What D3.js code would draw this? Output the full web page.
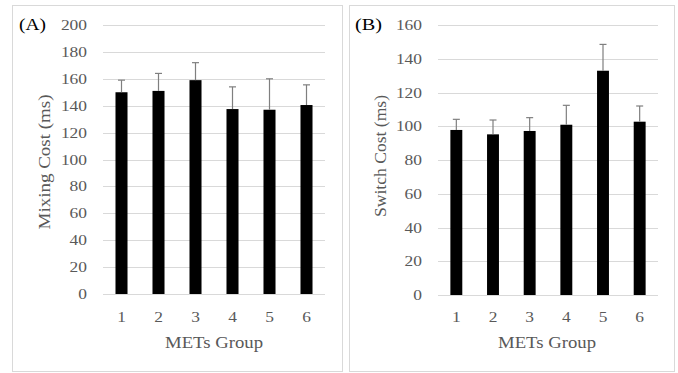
<!DOCTYPE html>
<html>
<head>
<meta charset="utf-8">
<script src="https://cdn.jsdelivr.net/npm/d3@7"></script>
<style>
  html, body { margin: 0; padding: 0; background: #fff; }
  svg { display: block; }
</style>
</head>
<body>
<svg id="chart" width="678" height="373" font-family="'Liberation Serif', 'Times New Roman', 'DejaVu Serif', serif"></svg>
<script>
// MET groups on the x axis
const groups = ["1", "2", "3", "4", "5", "6"];

// Panel A: mixing cost (ms), mean and error (upper bar length)
const mixingCost = [150, 151, 159, 137.5, 137, 140.5];
const mixingErr  = [9, 13, 13, 16.5, 23, 15];
const mixingTicks = [0, 20, 40, 60, 80, 100, 120, 140, 160, 180, 200];

// Panel B: switch cost (ms), mean and error
const switchCost = [97.8, 95.2, 97.2, 100.9, 132.9, 102.7];
const switchErr  = [6.3, 8.5, 7.9, 11.5, 15.6, 9.3];
const switchTicks = [0, 20, 40, 60, 80, 100, 120, 140, 160];

const svg = d3.select("#chart");

const panels = [
  {
    tag: "(A)", yTitle: "Mixing Cost (ms)", values: mixingCost, errs: mixingErr,
    ticks: mixingTicks, yMax: 200,
    box: [12.5, 5.5, 330, 366],
    plot: { x0: 103, x1: 325, y0: 294, y1: 25 },
    tagX: 19, tickRight: 87, yTitleX: 50, yTitleY: 162, yTitleLen: 135, xTitleX: 214
  },
  {
    tag: "(B)", yTitle: "Switch Cost (ms)", values: switchCost, errs: switchErr,
    ticks: switchTicks, yMax: 160,
    box: [349.5, 5.5, 325, 366],
    plot: { x0: 438, x1: 658, y0: 295, y1: 25 },
    tagX: 355, tickRight: 422, yTitleX: 386, yTitleY: 156, yTitleLen: 122, xTitleX: 547
  }
];

// stretch a text element horizontally by a factor
function widen(sel, factor) {
  sel.each(function () {
    const w = this.getComputedTextLength();
    d3.select(this).attr("textLength", w * factor).attr("lengthAdjust", "spacingAndGlyphs");
  });
}

panels.forEach(p => {
  const g = svg.append("g");

  // panel frame
  g.append("rect")
    .attr("x", p.box[0]).attr("y", p.box[1])
    .attr("width", p.box[2]).attr("height", p.box[3])
    .attr("fill", "#fff").attr("stroke", "#d9d9d9").attr("stroke-width", 1);

  const x = d3.scaleBand().domain(groups)
    .range([p.plot.x0, p.plot.x1])
    .paddingInner(0.675).paddingOuter(0.3375);
  const y = d3.scaleLinear().domain([0, p.yMax]).range([p.plot.y0, p.plot.y1]);

  // gridlines
  g.append("g").selectAll("line").data(p.ticks).join("line")
    .attr("x1", p.plot.x0).attr("x2", p.plot.x1)
    .attr("y1", d => Math.round(y(d)) + 0.5).attr("y2", d => Math.round(y(d)) + 0.5)
    .attr("stroke", "#d9d9d9").attr("stroke-width", 1);

  // y tick labels
  const yLab = g.append("g").selectAll("text").data(p.ticks).join("text")
    .attr("x", p.tickRight).attr("y", d => y(d) + 5)
    .attr("text-anchor", "end")
    .attr("font-size", 14.5).attr("fill", "#595959")
    .text(d => d);
  widen(yLab, 1.2);

  // bars
  g.append("g").selectAll("rect").data(groups).join("rect")
    .attr("x", d => x(d)).attr("width", x.bandwidth())
    .attr("y", (d, i) => y(p.values[i]))
    .attr("height", (d, i) => y(0) - y(p.values[i]))
    .attr("fill", "#000");

  // error bars (upper)
  const eb = g.append("g").selectAll("g").data(groups).join("g");
  eb.append("line")
    .attr("x1", d => x(d) + x.bandwidth() / 2).attr("x2", d => x(d) + x.bandwidth() / 2)
    .attr("y1", (d, i) => y(p.values[i]))
    .attr("y2", (d, i) => y(p.values[i] + p.errs[i]))
    .attr("stroke", "#7f7f7f").attr("stroke-width", 1.2);
  eb.append("line")
    .attr("x1", d => x(d) + x.bandwidth() / 2 - 3.5).attr("x2", d => x(d) + x.bandwidth() / 2 + 3.5)
    .attr("y1", (d, i) => y(p.values[i] + p.errs[i]))
    .attr("y2", (d, i) => y(p.values[i] + p.errs[i]))
    .attr("stroke", "#7f7f7f").attr("stroke-width", 1.2);

  // x tick labels
  const xLab = g.append("g").selectAll("text").data(groups).join("text")
    .attr("x", d => x(d) + x.bandwidth() / 2).attr("y", 322)
    .attr("text-anchor", "middle")
    .attr("font-size", 14.5).attr("fill", "#595959")
    .text(d => d);
  widen(xLab, 1.2);

  // axis titles
  g.append("text")
    .attr("x", p.xTitleX).attr("y", 347.5)
    .attr("text-anchor", "middle")
    .attr("font-size", 17).attr("fill", "#595959")
    .attr("textLength", 98).attr("lengthAdjust", "spacingAndGlyphs")
    .text("METs Group");

  g.append("text")
    .attr("transform", `translate(${p.yTitleX},${p.yTitleY}) rotate(-90)`)
    .attr("text-anchor", "middle")
    .attr("font-size", 16.5).attr("fill", "#595959")
    .attr("textLength", p.yTitleLen).attr("lengthAdjust", "spacingAndGlyphs")
    .text(p.yTitle);

  // panel tag
  g.append("text")
    .attr("x", p.tagX).attr("y", 30)
    .attr("font-size", 16).attr("fill", "#000")
    .attr("textLength", 27).attr("lengthAdjust", "spacingAndGlyphs")
    .text(p.tag);
});
</script>
</body>
</html>
